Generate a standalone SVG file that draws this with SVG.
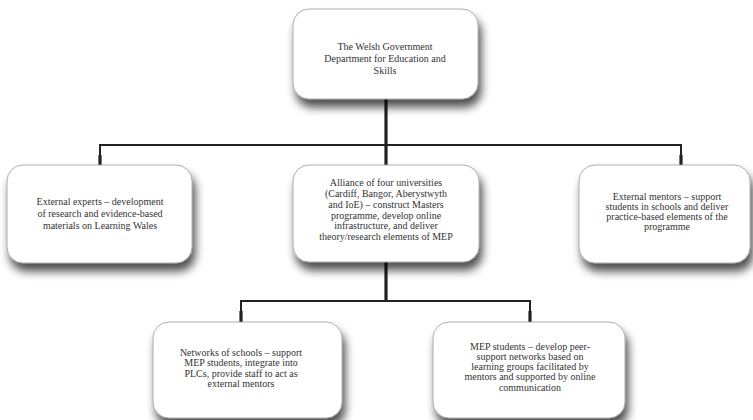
<svg xmlns="http://www.w3.org/2000/svg" width="753" height="420" viewBox="0 0 753 420">
<defs>
<filter id="sh" x="-20%" y="-20%" width="150%" height="160%">
<feGaussianBlur in="SourceAlpha" stdDeviation="5"/>
<feOffset dx="3" dy="8" result="b"/>
<feComponentTransfer><feFuncA type="linear" slope="0.7"/></feComponentTransfer>
<feMerge><feMergeNode/><feMergeNode in="SourceGraphic"/></feMerge>
</filter>
</defs>
<style>
.box{fill:#fff;stroke:#9a9a9a;stroke-width:0.8;filter:url(#sh)}
.ln{stroke:#222;stroke-width:2;fill:none}
.stub{stroke:#222;stroke-width:3.2;fill:none}
</style>
<rect width="753" height="420" fill="#fff"/>
<g id="connectors">
<path class="ln" d="M100,157 V145 H681 V157"/>
<path class="stub" d="M386,98 V165"/>
<path class="stub" d="M100,155 V165"/>
<path class="stub" d="M681,155 V165"/>
<path class="ln" d="M241,313 V301 H530 V313"/>
<path class="stub" d="M386,262 V301"/>
<path class="stub" d="M241,311 V322"/>
<path class="stub" d="M530,311 V322"/>
</g>
<g font-family="Liberation Serif" font-size="10" fill="#333" text-anchor="middle">
<g id="n1">
<rect class="box" x="293" y="9" width="185" height="90" rx="16"/>
<text x="385" y="50">The Welsh Government</text>
<text x="385" y="62">Department for Education and</text>
<text x="385" y="74">Skills</text>
</g>
<g id="n2">
<rect class="box" x="7" y="165" width="185" height="98" rx="16"/>
<text x="100" y="205">External experts – development</text>
<text x="100" y="217">of research and evidence-based</text>
<text x="100" y="229">materials on Learning Wales</text>
</g>
<g id="n3">
<rect class="box" x="293" y="165" width="186" height="97" rx="16"/>
<text x="386" y="186">Alliance of four universities</text>
<text x="386" y="197">(Cardiff, Bangor, Aberystwyth</text>
<text x="386" y="208">and IoE) – construct Masters</text>
<text x="386" y="219">programme, develop online</text>
<text x="386" y="229">infrastructure, and deliver</text>
<text x="386" y="240">theory/research elements of MEP</text>
</g>
<g id="n4">
<rect class="box" x="579" y="165" width="171" height="98" rx="16"/>
<text x="667" y="200">External mentors – support</text>
<text x="667" y="210">students in schools and deliver</text>
<text x="667" y="220">practice-based elements of the</text>
<text x="667" y="230">programme</text>
</g>
<g id="n5">
<rect class="box" x="153" y="322" width="189" height="96" rx="16"/>
<text x="241" y="356">Networks of schools – support</text>
<text x="241" y="366">MEP students, integrate into</text>
<text x="241" y="377">PLCs, provide staff to act as</text>
<text x="241" y="387">external mentors</text>
</g>
<g id="n6">
<rect class="box" x="433" y="322" width="192" height="96" rx="16"/>
<text x="530" y="350">MEP students – develop peer-</text>
<text x="530" y="360">support networks based on</text>
<text x="530" y="370">learning groups facilitated by</text>
<text x="530" y="380">mentors and supported by online</text>
<text x="530" y="391">communication</text>
</g>
</g>
</svg>
